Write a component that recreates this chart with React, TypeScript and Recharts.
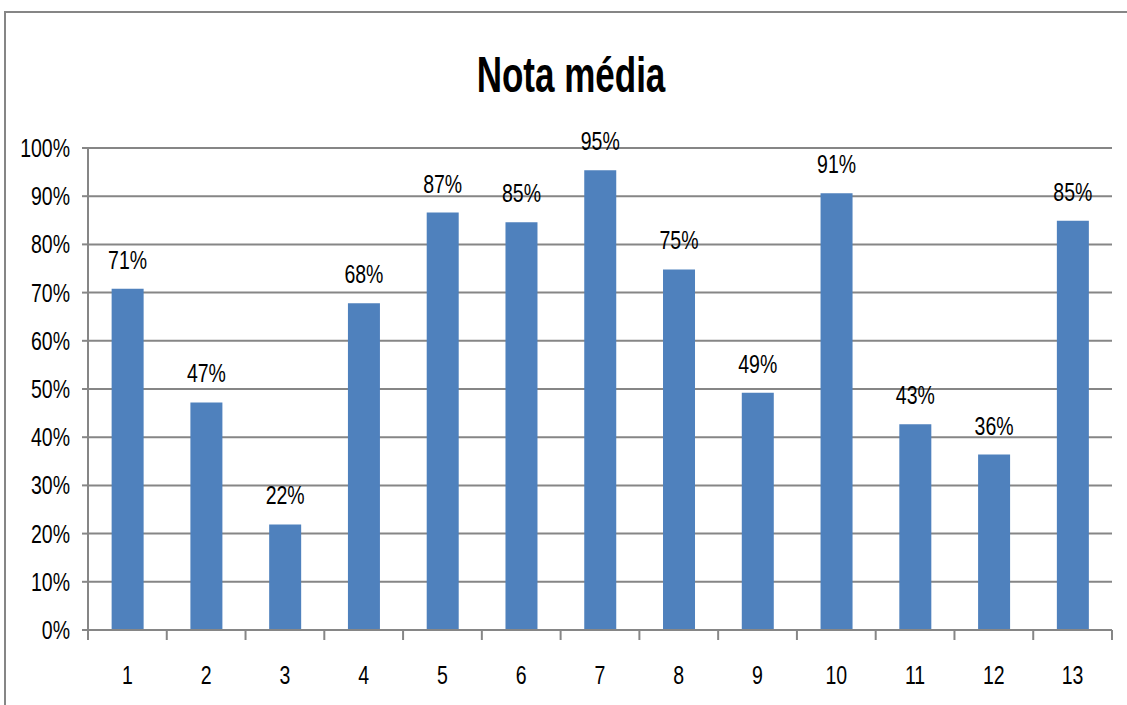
import React from "react";
import { BarChart, Bar, XAxis, YAxis, CartesianGrid, LabelList } from "recharts";

const categories = ["1", "2", "3", "4", "5", "6", "7", "8", "9", "10", "11", "12", "13"];
const notaMedia = [70.8, 47.2, 21.9, 67.8, 86.6, 84.6, 95.4, 74.8, 49.2, 90.6, 42.7, 36.4, 84.9];
const yTicks = [0, 10, 20, 30, 40, 50, 60, 70, 80, 90, 100];
const title = "Nota média";

const data = categories.map((c, i) => ({ cat: c, value: notaMedia[i] }));

const FONT = "'Liberation Sans', Arial, sans-serif";
const GRAY = "#868686";
const SX = 0.75;

const narrow = (origin: string): React.CSSProperties => ({
  transform: `scaleX(${SX})`,
  transformBox: "fill-box" as any,
  transformOrigin: origin,
});

const XTick = (props: any) => {
  const { x, y, payload, index, width, visibleTicksCount } = props;
  const n = visibleTicksCount || 13;
  const half = payload && typeof payload.offset === "number" && payload.offset > 0 ? payload.offset : width / n / 2;
  const isLast = index === n - 1;
  return (
    <g>
      <line x1={x - half} x2={x - half} y1={y} y2={y + 10} stroke={GRAY} strokeWidth={2} />
      {isLast && <line x1={x + half} x2={x + half} y1={y} y2={y + 10} stroke={GRAY} strokeWidth={2} />}
      <text x={x} y={y + 54} textAnchor="middle" fontSize={26} fontFamily={FONT} fill="#000" style={narrow("50% 50%")}>
        {payload.value}
      </text>
    </g>
  );
};

const YTick = (props: any) => {
  const { x, y, payload } = props;
  return (
    <text x={x} y={y + 9} textAnchor="end" fontSize={26} fontFamily={FONT} fill="#000" style={narrow("100% 50%")}>
      {`${payload.value}%`}
    </text>
  );
};

const BarLabel = (props: any) => {
  const { x, y, width, value } = props;
  return (
    <text x={Number(x) + Number(width) / 2} y={Number(y) - 20} textAnchor="middle" fontSize={26} fontFamily={FONT} fill="#000" style={narrow("50% 50%")}>
      {`${Math.round(Number(value))}%`}
    </text>
  );
};

export default function App() {
  return (
    <div style={{ position: "absolute", left: 0, top: 0, width: 1127, height: 705, overflow: "hidden", background: "#fff" }}>
      <div
        style={{
          position: "absolute",
          left: 4,
          top: 11,
          width: 1300,
          height: 900,
          borderLeft: `2px solid ${GRAY}`,
          borderTop: `2px solid ${GRAY}`,
        }}
      />
      <div
        style={{
          position: "absolute",
          left: 271,
          width: 600,
          top: 45,
          textAlign: "center",
          fontFamily: FONT,
          fontWeight: "bold",
          fontSize: 50,
          lineHeight: "60px",
          color: "#000",
          transform: "scaleX(0.7)",
          transformOrigin: "50% 50%",
        }}
      >
        {title}
      </div>
      <div style={{ position: "absolute", left: 0, top: 0 }}>
        <BarChart
          width={1127}
          height={705}
          data={data}
          margin={{ top: 148, right: 15, bottom: 0, left: 0 }}
          barCategoryGap="30%"
          style={{ overflow: "visible" }}
        >
          <CartesianGrid vertical={false} stroke={GRAY} strokeWidth={2} />
          <XAxis
            dataKey="cat"
            height={75}
            tick={<XTick />}
            tickLine={false}
            tickSize={0}
            tickMargin={0}
            axisLine={{ stroke: GRAY, strokeWidth: 2 }}
            interval={0}
          />
          <YAxis
            width={88}
            domain={[0, 100]}
            ticks={yTicks}
            tick={<YTick />}
            tickSize={6}
            tickMargin={12}
            tickLine={{ stroke: GRAY, strokeWidth: 2 }}
            axisLine={{ stroke: GRAY, strokeWidth: 2 }}
            interval={0}
          />
          <Bar dataKey="value" fill="#4F81BD" isAnimationActive={false}>
            <LabelList dataKey="value" position="top" content={<BarLabel />} />
          </Bar>
        </BarChart>
      </div>
    </div>
  );
}
